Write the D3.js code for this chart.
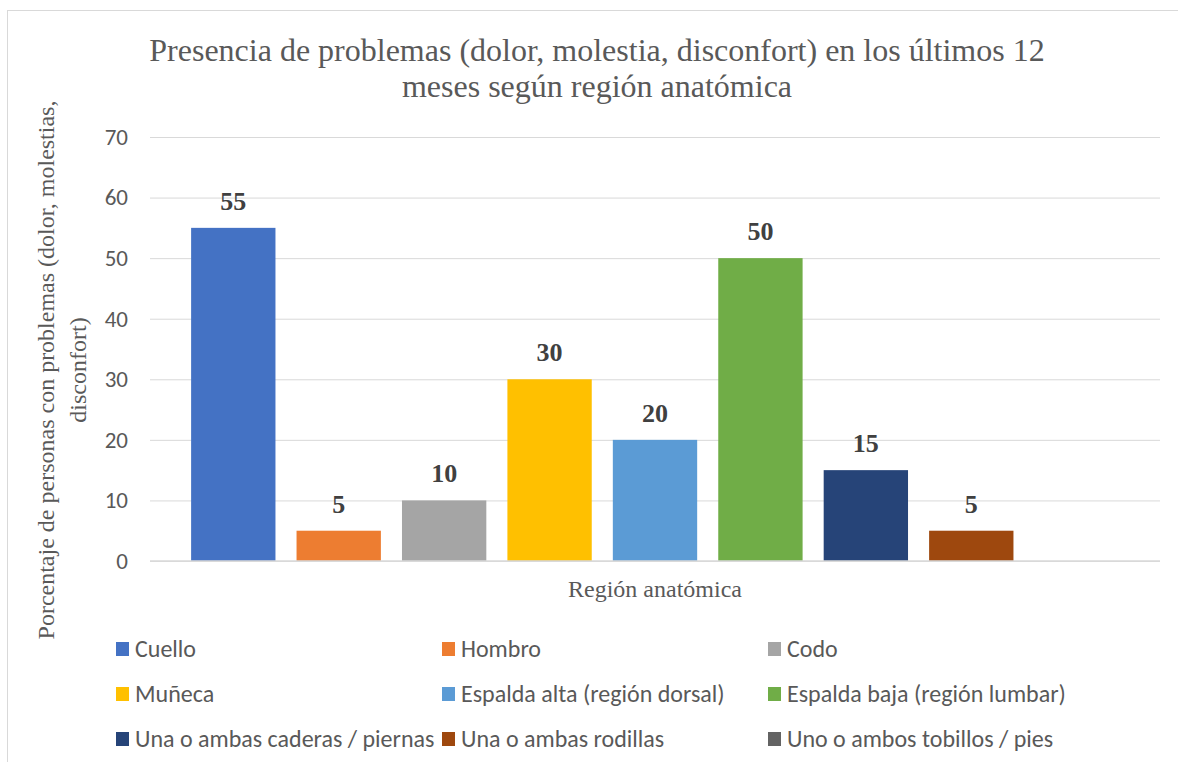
<!DOCTYPE html>
<html>
<head>
<meta charset="utf-8">
<script src="https://cdn.jsdelivr.net/npm/d3@7"></script>
<style>
  body { margin: 0; background: #fff; }
  .serif { font-family: "Liberation Serif", "Times New Roman", serif; }
  .sans { font-family: "Carlito", "Liberation Sans", "Noto Sans", sans-serif; }
</style>
</head>
<body>
<svg id="chart" width="1178" height="762"></svg>
<script>
(function() {
    // data
    var categories = ["Cuello", "Hombro", "Codo", "Muñeca", "Espalda alta (región dorsal)",
        "Espalda baja (región lumbar)", "Una o ambas caderas / piernas",
        "Una o ambas rodillas", "Uno o ambos tobillos / pies"]
    var values = [55, 5, 10, 30, 20, 50, 15, 5, 0]
    var colors = ["#4472C4", "#ED7D31", "#A5A5A5", "#FFC000", "#5B9BD5",
        "#70AD47", "#264478", "#9E480E", "#636363"]
    var yTicks = [0, 10, 20, 30, 40, 50, 60, 70]

    var data = categories.map((name, i) => ({ name, value: values[i], color: colors[i] }))

    var svg = d3.select("#chart")

    // chart border
    svg.append("rect")
        .attr("x", 7.5).attr("y", 10.5)
        .attr("width", 1176).attr("height", 760)
        .attr("fill", "none").attr("stroke", "#d9d9d9")

    var x = d3.scaleBand()
        .domain(categories)
        .range([150, 1160])
        .paddingInner(0.2)
        .paddingOuter(0.39)

    var y = d3.scaleLinear()
        .domain([0, 70])
        .range([561, 137])

    // gridlines + tick labels
    svg.append("g")
        .attr("transform", "translate(150,0)")
        .call(d3.axisLeft(y).tickValues(yTicks).tickSize(-1010).tickPadding(22))
        .call(g => g.select(".domain").remove())
        .call(g => g.selectAll(".tick line").attr("stroke", "#d9d9d9"))
        .call(g => g.selectAll(".tick text")
            .attr("class", "sans").attr("fill", "#595959")
            .style("font-size", "23px"))

    // bars
    svg.append("g")
        .selectAll("rect")
        .data(data)
        .join("rect")
            .attr("x", d => x(d.name))
            .attr("y", d => y(d.value))
            .attr("width", x.bandwidth())
            .attr("height", d => y(0) - y(d.value))
            .attr("fill", d => d.color)

    // baseline
    svg.append("line")
        .attr("x1", 150).attr("x2", 1160)
        .attr("y1", y(0)).attr("y2", y(0))
        .attr("stroke", "#d9d9d9").attr("stroke-width", 1.5)

    // value labels
    svg.append("g")
        .selectAll("text")
        .data(data.filter(d => d.value > 0))
        .join("text")
            .attr("class", "serif")
            .attr("x", d => x(d.name) + x.bandwidth() / 2)
            .attr("y", d => y(d.value) - 18)
            .attr("text-anchor", "middle")
            .attr("fill", "#404040")
            .style("font-size", "26px")
            .style("font-weight", "bold")
            .text(d => d.value)

    // title
    var title = svg.append("text")
        .attr("class", "serif")
        .attr("text-anchor", "middle")
        .attr("fill", "#595959")
        .style("font-size", "32px")
    title.append("tspan").attr("x", 597).attr("y", 61)
        .text("Presencia de problemas (dolor, molestia, disconfort) en los últimos 12")
    title.append("tspan").attr("x", 597).attr("y", 97)
        .text("meses según región anatómica")

    // x axis title
    svg.append("text")
        .attr("class", "serif")
        .attr("x", 655).attr("y", 597)
        .attr("text-anchor", "middle")
        .attr("fill", "#595959")
        .style("font-size", "24px")
        .text("Región anatómica")

    // y axis title
    var yt = svg.append("text")
        .attr("class", "serif")
        .attr("transform", "translate(0,370) rotate(-90)")
        .attr("text-anchor", "middle")
        .attr("fill", "#595959")
        .style("font-size", "24px")
    yt.append("tspan").attr("x", 0).attr("y", 54)
        .text("Porcentaje de personas con problemas (dolor, molestias,")
    yt.append("tspan").attr("x", 0).attr("y", 86)
        .text("disconfort)")

    // legend
    var colX = [116, 442, 768], rowY = [649, 694, 739]
    var legend = svg.append("g")
        .selectAll("g")
        .data(data)
        .join("g")
            .attr("transform", (d, i) => `translate(${colX[i % 3]},${rowY[Math.floor(i / 3)]})`)
    legend.append("rect")
        .attr("x", 0).attr("y", -7)
        .attr("width", 13).attr("height", 14)
        .attr("fill", d => d.color)
    legend.append("text")
        .attr("class", "sans")
        .attr("x", 19).attr("y", 8)
        .attr("fill", "#595959")
        .style("font-size", "24px")
        .text(d => d.name)
})();
</script>
</body>
</html>
